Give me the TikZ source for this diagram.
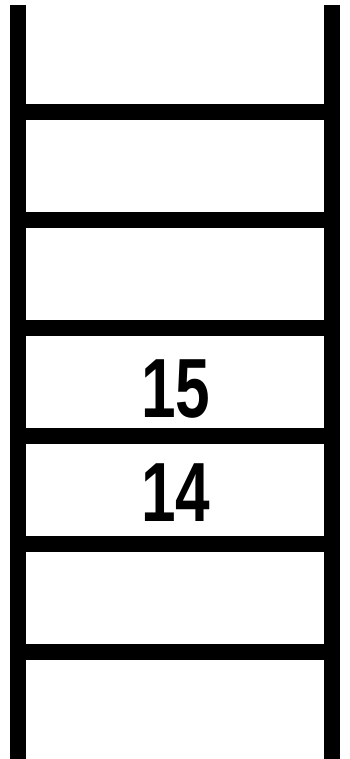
\documentclass[tikz,border=0pt]{standalone}
\usepackage{fontspec}
\setmainfont{Liberation Sans}
\begin{document}
\begin{tikzpicture}[x=1pt,y=-1pt,
  rail/.style={line width=16pt},
  rung/.style={line width=16pt},
  num/.style={font=\fontsize{84}{84}\selectfont\bfseries, inner sep=0pt, xscale=0.74}]
\useasboundingbox (0,0) rectangle (349,759);
\fill[white] (0,0) rectangle (349,759);
\coordinate (lt) at (18,5);
\coordinate (lb) at (18,759);
\coordinate (rt) at (332,5);
\coordinate (rb) at (332,759);
\draw[rail] (lt) -- (lb);
\draw[rail] (rt) -- (rb);
\foreach \y [count=\i] in {112,220,328,436,544,652} {
  \coordinate (a\i) at (10,\y);
  \coordinate (b\i) at (340,\y);
  \draw[rung] (a\i) -- (b\i);
}
\node[num] (n15) at (176,389) {15};
\node[num] (n14) at (176,493) {14};
\end{tikzpicture}
\end{document}
